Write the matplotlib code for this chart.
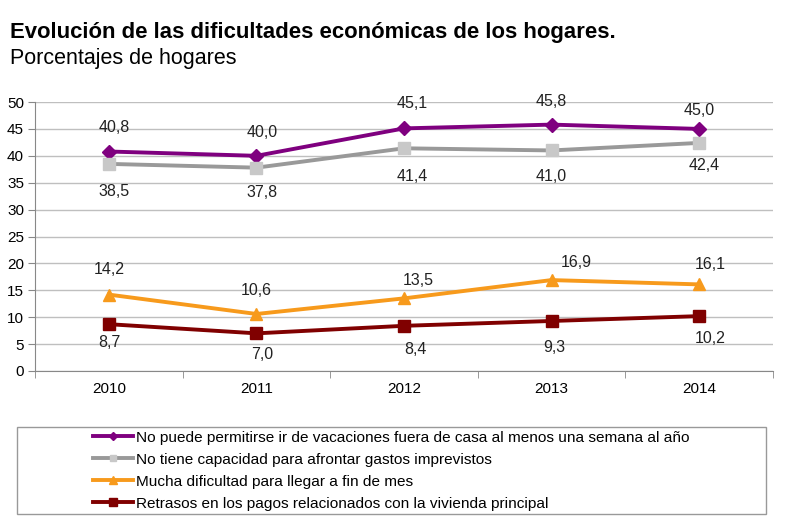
import matplotlib.pyplot as plt
from matplotlib.patches import Rectangle
import numpy as np

plt.rcParams['font.family'] = ['Liberation Sans', 'DejaVu Sans']

years = ['2010', '2011', '2012', '2013', '2014']
vacaciones = [40.8, 40.0, 45.1, 45.8, 45.0]
imprevistos = [38.5, 37.8, 41.4, 41.0, 42.4]
fin_de_mes = [14.2, 10.6, 13.5, 16.9, 16.1]
retrasos = [8.7, 7.0, 8.4, 9.3, 10.2]

labels = [
    'No puede permitirse ir de vacaciones fuera de casa al menos una semana al año',
    'No tiene capacidad para afrontar gastos imprevistos',
    'Mucha dificultad para llegar a fin de mes',
    'Retrasos en los pagos relacionados con la vivienda principal',
]

fig = plt.figure(figsize=(8, 5.3), dpi=100)
ax = fig.add_axes([0.044, 0.300, 0.922, 0.5075])
x = np.arange(len(years))

# series: values, line colour, marker, marker colour, size, label offsets (pt)
series = [
    (vacaciones, '#7F007F', 'D', '#7F007F', 7, [(4, 17), (4, 17), (6, 18), (0, 17), (0, 13)]),
    (imprevistos, '#999999', 's', '#C8C8C8', 8, [(4, -20), (4, -18), (6, -20), (0, -19), (4, -16)]),
    (fin_de_mes, '#F79A1C', '^', '#F79A1C', 9, [(0, 18), (0, 17), (10, 13), (18, 13), (8, 14)]),
    (retrasos, '#800000', 's', '#800000', 9, [(0, -13), (4, -15), (8, -17), (2, -19), (8, -16)]),
]

for (vals, col, mk, mcol, ms, offs), lab in zip(series, labels):
    ax.plot(x, vals, color=col, lw=2.8, marker=mk, markersize=ms,
            markerfacecolor=mcol, markeredgecolor=mcol, label=lab, zorder=3)
    for xi, v, (dx, dy) in zip(x, vals, offs):
        ax.annotate(f'{v:.1f}'.replace('.', ','), (xi, v), xytext=(dx, dy),
                    textcoords='offset points', ha='center', va='center',
                    fontsize=11.5, color='#222222')

ax.set_xlim(-0.5, 4.5)
ax.set_ylim(0, 50)
ax.set_yticks(range(0, 51, 5))
ax.set_xticks(x)
ax.set_xticklabels(years)
ax.set_xticks(np.arange(-0.5, 5, 1), minor=True)
ax.tick_params(axis='x', which='major', length=0, pad=8, labelsize=11)
ax.tick_params(axis='x', which='minor', length=5, color='#888888', direction='out')
ax.tick_params(axis='y', length=5, color='#888888', direction='out', labelsize=11, pad=3)
ax.grid(axis='y', color='#BFBFBF', lw=1)
ax.set_axisbelow(True)
for s in ['top', 'right']:
    ax.spines[s].set_visible(False)
for s in ['left', 'bottom']:
    ax.spines[s].set_color('#888888')

fig.text(0.0125, 0.938, 'Evolución de las dificultades económicas de los hogares.',
         fontsize=15.9, fontweight='bold', va='center')
fig.text(0.0125, 0.890, 'Porcentajes de hogares', fontsize=15.5, va='center')

fig.patches.append(Rectangle((0.021, 0.030), 0.936, 0.164, transform=fig.transFigure,
                             fill=False, edgecolor='#999999', lw=1))
h, l = ax.get_legend_handles_labels()
fig.legend(h, l, loc='center', bbox_to_anchor=(0.489, 0.112), frameon=False,
           fontsize=11.1, handlelength=2.6, handletextpad=0.15, labelspacing=0.52,
           markerscale=0.6)

plt.savefig('out.png', dpi=100)
